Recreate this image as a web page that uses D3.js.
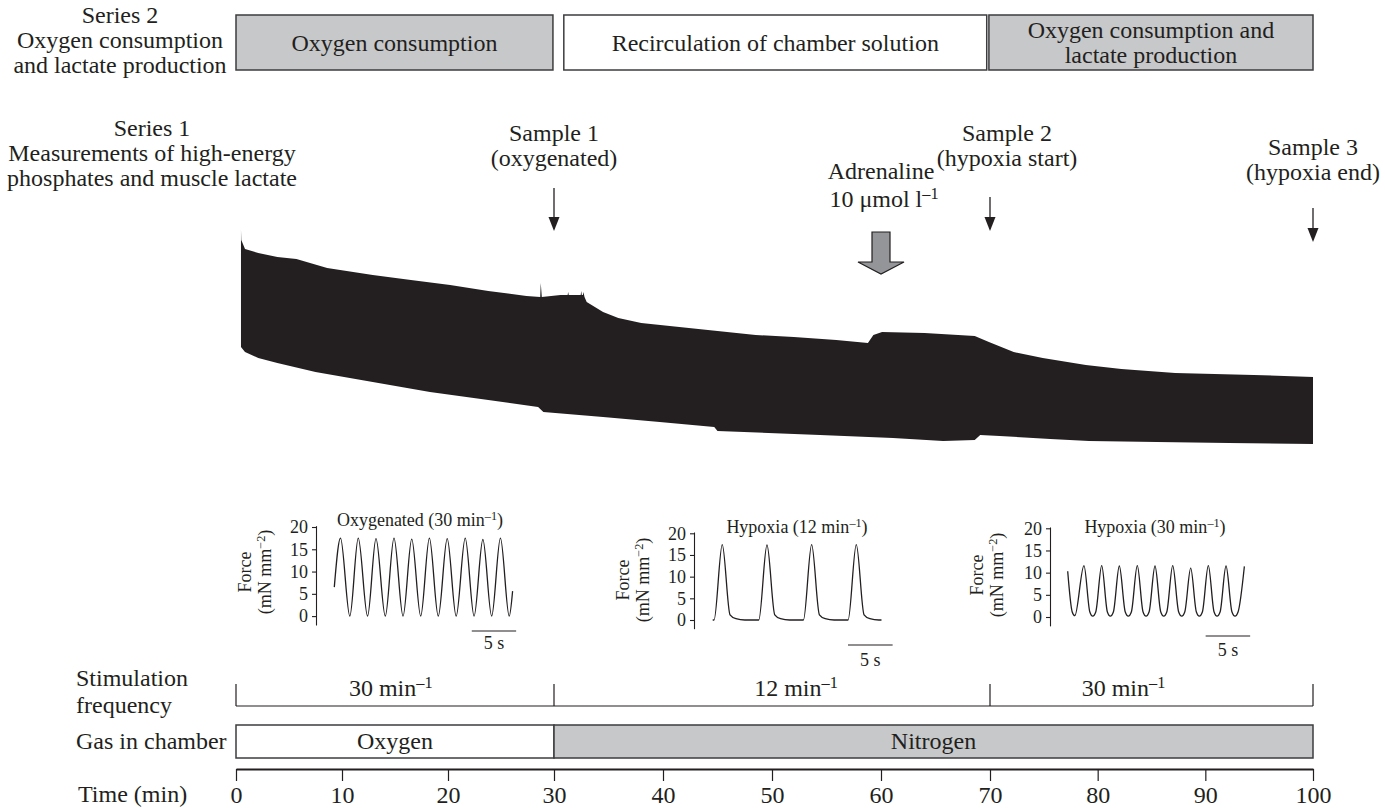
<!DOCTYPE html>
<html>
<head>
<meta charset="utf-8">
<script src="https://cdn.jsdelivr.net/npm/d3@7"></script>
<style>
  body{margin:0;background:#fff}
  svg text{font-family:"Liberation Serif","Times New Roman",serif;fill:#231f20}
</style>
</head>
<body>
<main></main>
<script>
// ---- values ----
const timeTicks=[0,10,20,30,40,50,60,70,80,90,100]
const phaseBreaks=[0,30,70,100]   // min

const series2Start=[0,30.9,69.9]
const series2End=[29.9,69.7,100]
const series2Text=[["Oxygen consumption"],["Recirculation of chamber solution"],["Oxygen consumption and","lactate production"]]
const series2Grey=[true,false,true]

const stimRate=["30","12","30"]
const stimLabelAt=[14.6,52.2,82.4]

const gasStart=[0,30]
const gasEnd=[30,100]
const gasName=["Oxygen","Nitrogen"]
const gasGrey=[false,true]

const sampleTime=[30,70,100]
const sampleName=["Sample 1","Sample 2","Sample 3"]
const sampleNote=["(oxygenated)","(hypoxia start)","(hypoxia end)"]
const adrenalineTime=60

// force record envelope [min, force], upper edge and lower edge
const traceTop=[[0.47,23.0],[0.5,22.0],[0.85,21.1],[2.1,20.7],[3.9,20.3],[5.7,20.1],[8.6,19.2],[12.9,18.5],
  [16.5,18.0],[20.2,17.5],[23.8,16.9],[27.4,16.4],[28.7,16.3],[28.75,17.7],[28.85,16.3],[30.6,16.5],
  [31.25,16.5],[31.3,16.8],[31.35,16.5],[32.45,16.5],[32.5,16.9],[32.55,16.5],[32.65,16.5],[32.7,16.8],
  [32.8,16.3],[33.0,15.8],[34.5,14.8],[35.9,14.2],[38.0,13.7],[41.5,13.3],[45.0,12.9],[48.5,12.5],
  [52.0,12.3],[55.9,12.0],[58.8,11.7],[59.3,12.5],[60.1,12.8],[64.0,12.7],[68.6,12.4],[69.9,11.8],
  [72.2,10.8],[74.9,10.2],[78.9,9.5],[82.2,9.1],[87.2,8.7],[94.5,8.5],[100,8.3]]
const traceBottom=[[0.47,11.3],[0.85,10.8],[2.1,10.2],[3.9,9.7],[7.5,8.8],[12.9,7.8],[18.3,6.8],[23.8,6.0],
  [28.5,5.3],[29.0,4.8],[34.5,4.3],[39.7,3.8],[44.7,3.3],[45.0,2.9],[54.4,2.5],[61.1,2.2],[65.7,1.9],
  [68.6,2.0],[69.1,2.5],[70.9,2.4],[75.6,2.1],[79.2,1.9],[85.5,1.8],[92.2,1.7],[100,1.6]]

// inset twitch records [s, mN mm-2]
const forceTicks=[0,5,10,15,20]
const insetTitle=["Oxygenated","Hypoxia","Hypoxia"]
const insetRate=["30","12","30"]
const twitchOxy=[[0,6.5],[0.7,17.5],[1.75,0],[2.7,17.5],[3.75,0],[4.7,17.4],[5.75,0],[6.73,17.5],[7.75,0],
  [8.73,17.3],[9.74,0],[10.72,17.5],[11.72,0],[12.73,17.4],[13.74,0],[14.76,17.5],[15.76,0],[16.75,17.2],
  [17.74,0],[18.73,17.5],[19.72,0],[20.1,5.6]]
const twitchHyp12=[[0,0],[0.15,0],[1.07,17.4],[1.94,1.2],[2.6,0.3],[3.6,0],[5.16,0],[6.08,17.3],[6.95,1.2],
  [7.6,0.3],[8.6,0],[10.16,0],[11.08,17.4],[11.95,1.2],[12.6,0.3],[13.6,0],[15.16,0],[16.08,17.4],
  [16.95,1.2],[17.6,0.3],[18.6,0],[18.9,0]]
const twitchHyp30=[[0,10.3],[0.5,1.2],[0.8,0.3],[1.83,11.6],[2.48,1.2],[2.81,0.2],[3.16,1.2],[3.82,11.6],
  [4.45,1.2],[4.79,0.2],[5.14,1.2],[5.8,11.5],[6.46,1.2],[6.81,0.2],[7.16,1.2],[7.82,11.6],[8.46,1.2],
  [8.8,0.2],[9.15,1.2],[9.81,11.5],[10.45,1.2],[10.79,0.2],[11.14,1.2],[11.8,11.6],[12.46,1.2],[12.81,0.2],
  [13.16,1.2],[13.82,11.0],[14.45,1.2],[14.79,0.2],[15.14,1.2],[15.8,11.6],[16.44,1.2],[16.78,0.2],
  [17.13,1.2],[17.79,11.5],[18.45,1.2],[18.8,0.2],[19.15,1.2],[19.85,11.4]]
const scaleBarStart=[15.5,15.15,15.5]   // s, 5 s bars

// ---- drawing ----
const size={width:1385,height:808}
const ink='#231f20', grey='#c7c8ca', edge='#3d3d3f'
const svg=d3.select('main').append('svg').attr('width',size.width).attr('height',size.height)

const x=d3.scaleLinear().domain(phaseBreaks).range([236,554,990,1313])
const yTrace=d3.scaleLinear().domain([0,25]).range([460,210])

const label=(px,py,str,fs,anchor)=>svg.append('text').attr('x',px).attr('y',py).attr('dy','0.35em')
    .attr('font-size',fs).attr('text-anchor',anchor||'middle').text(str)

const withSup=(t,base,sup,tail,fs)=>{
    t.text(null)
    t.append('tspan').text(base)
    t.append('tspan').attr('font-size',fs*0.68).attr('dy',-fs*0.36).text(sup)
    if(tail) t.append('tspan').attr('dy',fs*0.36).text(tail)
    return t
}

// series 2 row
const rowTop=15, rowH=55
series2Start.forEach((s,i)=>{
    svg.append('rect').attr('x',x(s)).attr('y',rowTop).attr('width',x(series2End[i])-x(s)).attr('height',rowH)
        .attr('fill',series2Grey[i]?grey:'#fff').attr('stroke',edge).attr('stroke-width',1.5)
    const cx=(x(s)+x(series2End[i]))/2, lines=series2Text[i]
    lines.forEach((l,j)=>label(cx,rowTop+rowH/2+(j-(lines.length-1)/2)*25,l,24))
})
;["Series 2","Oxygen consumption","and lactate production"].forEach((l,j)=>label(120,15+j*25,l,24))
;["Series 1","Measurements of high-energy","phosphates and muscle lactate"].forEach((l,j)=>label(152,128+j*25,l,24))

// sample arrows
const sampleLayout=[{dx:0,ty:133,top:188,tip:231},{dx:17,ty:133,top:197,tip:231},{dx:0,ty:147,top:208,tip:242}]
sampleTime.forEach((t,i)=>{
    const L=sampleLayout[i], ax=x(t)
    label(ax+L.dx,L.ty,sampleName[i],24)
    label(ax+L.dx,L.ty+25,sampleNote[i],24)
    svg.append('line').attr('x1',ax).attr('x2',ax).attr('y1',L.top).attr('y2',L.tip-12).attr('stroke',ink).attr('stroke-width',1.3)
    svg.append('path').attr('d',d3.line()([[ax-5.5,L.tip-14],[ax+5.5,L.tip-14],[ax,L.tip]])+'Z').attr('fill',ink)
})

// adrenaline block arrow
const adx=x(adrenalineTime)
label(adx,171,"Adrenaline",24)
withSup(label(adx+3,199,"",24),"10 \u03bcmol l","\u20131",null,24)
svg.append('path')
    .attr('d',d3.line()([[adx-9,232],[adx+9,232],[adx+9,262],[adx+23,262],[adx,274],[adx-23,262],[adx-9,262]])+'Z')
    .attr('fill','#939598').attr('stroke',ink).attr('stroke-width',1.2)

// force record band
const outline=traceTop.concat(traceBottom.slice().reverse())
svg.append('path').attr('d',d3.line().x(d=>x(d[0])).y(d=>yTrace(d[1]))(outline)+'Z').attr('fill',ink)

// insets
const insetLayout=[
    {axisX:316,x0:334.3,pxs:8.87,y0:616.1,pxn:4.4545,titleX:420,titleY:520,fX:245,fY:572,barY:631,barLabY:643,data:twitchOxy},
    {axisX:694,x0:712.7,pxs:8.93,y0:620,pxn:4.335,titleX:797,titleY:527,fX:623,fY:580,barY:645,barLabY:660,data:twitchHyp12},
    {axisX:1050,x0:1067.7,pxs:8.9,y0:617,pxn:4.435,titleX:1155,titleY:527,fX:977,fY:575,barY:636,barLabY:650,data:twitchHyp30}
]
insetLayout.forEach((L,i)=>{
    const xs=d3.scaleLinear().domain([0,21]).range([L.x0,L.x0+21*L.pxs])
    const ys=d3.scaleLinear().domain([-2,20.3]).range([L.y0+2*L.pxn,L.y0-20.3*L.pxn])
    const g=svg.append('g').attr('transform',`translate(${L.axisX},0)`)
        .call(d3.axisLeft(ys).tickValues(forceTicks).tickSize(4).tickSizeOuter(0).tickPadding(4))
    g.selectAll('path,line').attr('stroke',ink).attr('stroke-width',1.1)
    g.selectAll('text').attr('font-size',18).attr('font-family','Liberation Serif').attr('fill',ink)

    svg.append('path').datum(L.data)
        .attr('d',d3.line().x(d=>xs(d[0])).y(d=>ys(d[1])).curve(d3.curveMonotoneX))
        .attr('fill','none').attr('stroke',ink).attr('stroke-width',1.3)

    withSup(label(L.titleX,L.titleY,"",18),insetTitle[i]+" ("+insetRate[i]+" min","\u20131",")",18)

    svg.append('text').attr('transform',`translate(${L.fX},${L.fY}) rotate(-90)`).attr('dy','0.35em')
        .attr('text-anchor','middle').attr('font-size',18).text("Force")
    withSup(svg.append('text').attr('transform',`translate(${L.fX+20},${L.fY}) rotate(-90)`).attr('dy','0.35em')
        .attr('text-anchor','middle').attr('font-size',18),"(mN mm","\u22122",")",18)

    const b0=xs(scaleBarStart[i]), b1=xs(scaleBarStart[i]+5)
    svg.append('line').attr('x1',b0).attr('x2',b1).attr('y1',L.barY).attr('y2',L.barY).attr('stroke',ink).attr('stroke-width',1.2)
    label((b0+b1)/2,L.barLabY,"5 s",18)
})

// stimulation frequency
const stimY=706
label(76,678,"Stimulation",24,'start')
label(76,705,"frequency",24,'start')
svg.append('line').attr('x1',x(0)).attr('x2',x(100)).attr('y1',stimY).attr('y2',stimY).attr('stroke',ink).attr('stroke-width',1.2)
phaseBreaks.forEach(t=>svg.append('line').attr('x1',x(t)).attr('x2',x(t)).attr('y1',stimY-22).attr('y2',stimY).attr('stroke',ink).attr('stroke-width',1.2))
stimRate.forEach((r,i)=>withSup(label(x(stimLabelAt[i]),688,"",24),r+" min","\u20131",null,24))

// gas in chamber
label(76,741,"Gas in chamber",24,'start')
gasStart.forEach((s,i)=>{
    svg.append('rect').attr('x',x(s)).attr('y',725).attr('width',x(gasEnd[i])-x(s)).attr('height',33)
        .attr('fill',gasGrey[i]?grey:'#fff').attr('stroke',edge).attr('stroke-width',1.5)
    label((x(s)+x(gasEnd[i]))/2,741,gasName[i],24)
})

// time axis
label(78,794,"Time (min)",24,'start')
const ax=svg.append('g').attr('transform','translate(0,769)')
    .call(d3.axisBottom(x).tickValues(timeTicks).tickSize(12).tickSizeOuter(0).tickPadding(5).tickFormat(d3.format('d')))
ax.select('.domain').attr('stroke',ink).attr('stroke-width',2)
ax.selectAll('line').attr('stroke',ink).attr('stroke-width',1.2)
ax.selectAll('text').attr('font-size',24).attr('font-family','Liberation Serif').attr('fill',ink)
</script>
</body>
</html>
